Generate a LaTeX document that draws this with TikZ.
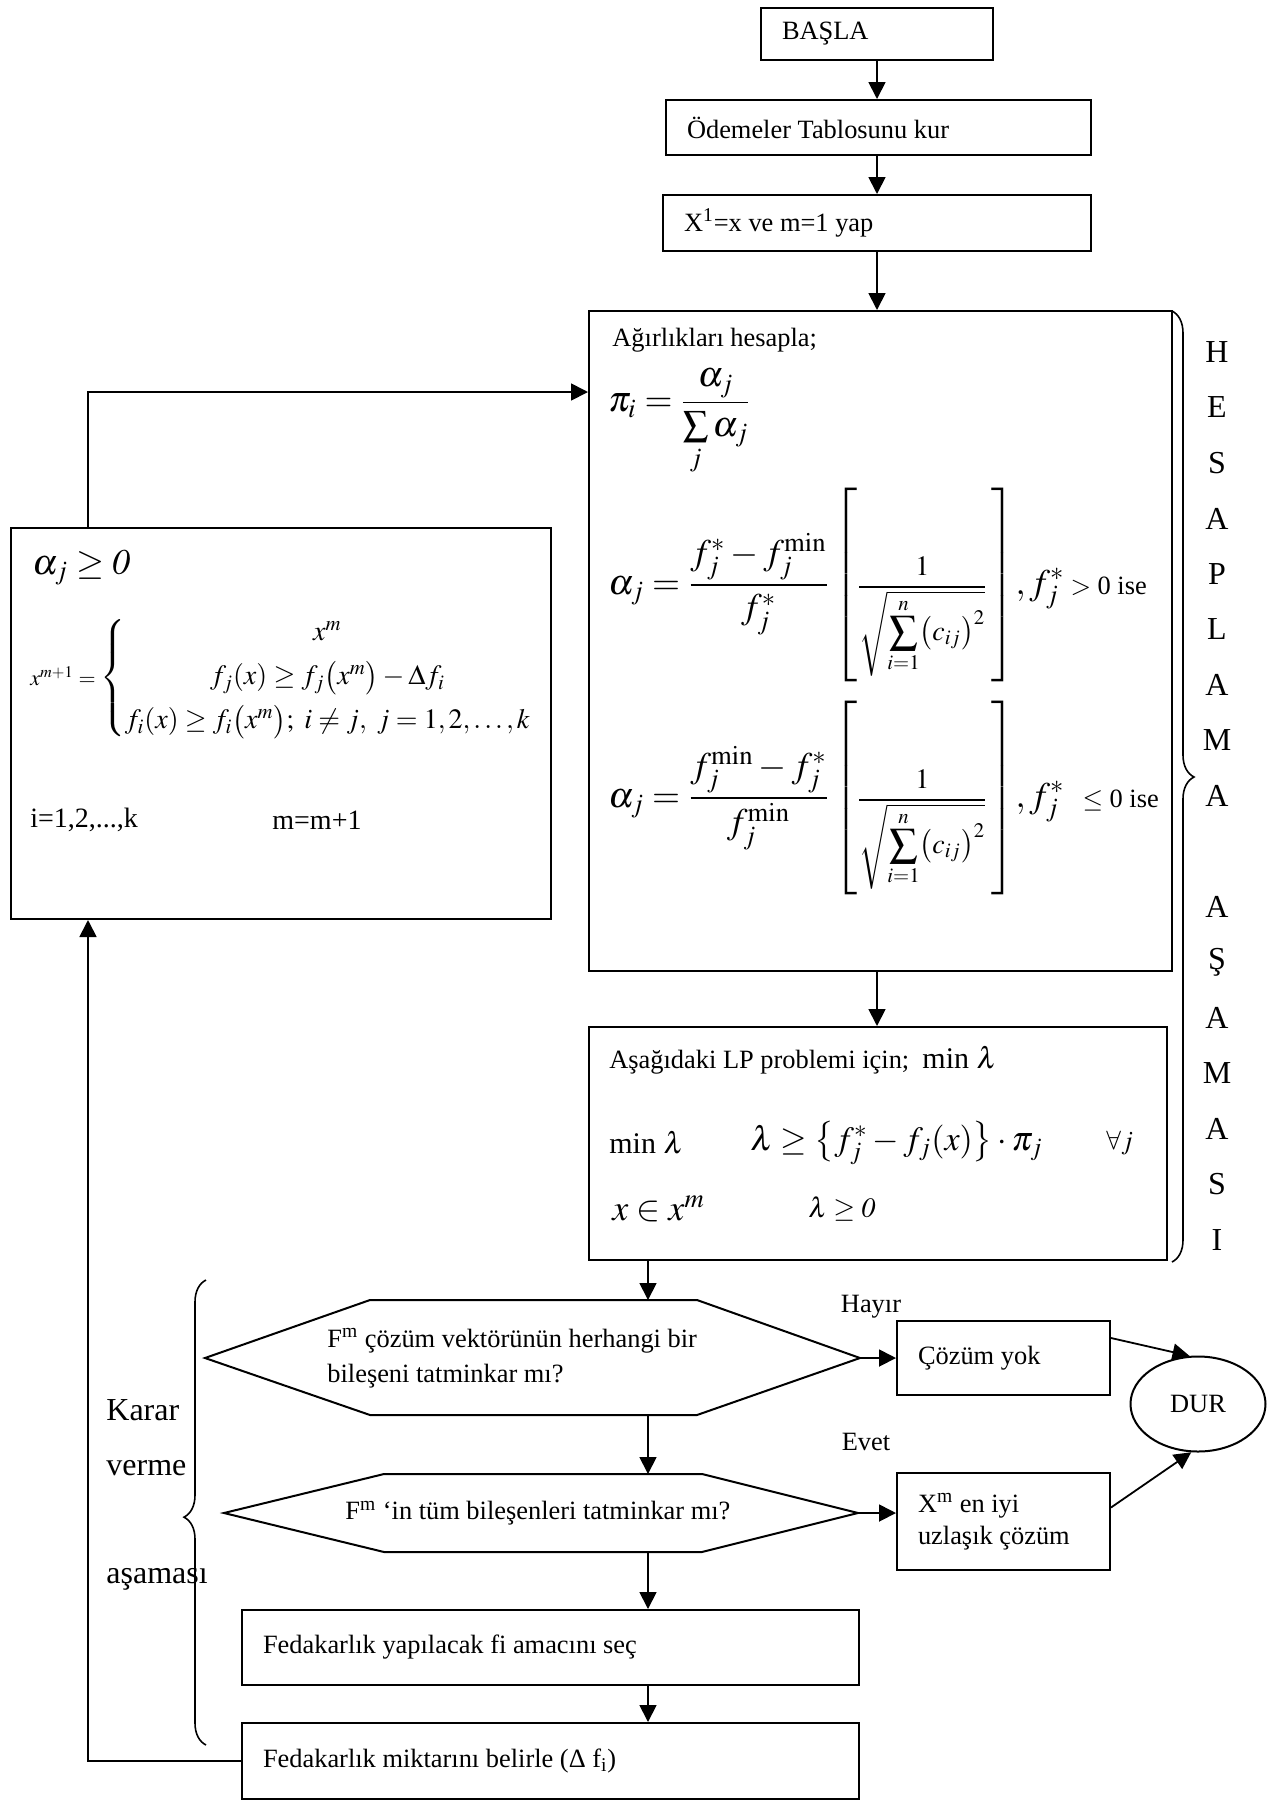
\documentclass[tikz,border=0pt]{standalone}
\usepackage{mathptmx}
\usepackage{amsmath}
\usepackage{fontspec}
\setmainfont{Liberation Serif}
\usetikzlibrary{arrows.meta,calc,shapes.geometric,decorations.pathreplacing}

\tikzset{
  kutu/.style={draw, line width=1pt, rectangle, align=flush left, inner xsep=10.5pt, inner ysep=0pt},
  cerceve/.style={draw, line width=1pt},
  yazi/.style={anchor=west, inner sep=0pt},
  harf/.style={font=\fontsize{16}{19}\selectfont, inner sep=0pt},
  ok/.style={line width=0.9pt, -{Triangle[width=8.5pt,length=8.5pt]}},
  parantez/.style={decorate, decoration={brace, amplitude=11pt, aspect=0.49}, line width=0.8pt}
}
\newcommand{\kokterim}{\mbox{\fontsize{14}{17}\selectfont$\dfrac{1}{\sqrt{\displaystyle\sum_{i=1}^{n}\bigl(c_{ij}\bigr)^{2}}}$}}

\begin{document}
\begin{tikzpicture}[x=0.5pt,y=-0.5pt,font=\fontsize{13.2}{16}\selectfont]
\useasboundingbox (0,0) rectangle (1269,1801);

% baslangic kutulari
\node[kutu, text width=95pt, minimum height=26pt] (basla) at (877,34) {BAŞLA};
\node[kutu, text width=191.5pt, minimum height=27.5pt] (odeme) at (878.5,127.5) {Ödemeler Tablosunu kur};
\node[kutu, text width=193pt, minimum height=28pt] (xbir) at (877,223) {X\textsuperscript{1}=x ve m=1 yap};

% hesaplama asamasi
\node[cerceve, minimum width=291.5pt, minimum height=330pt] (agirlik) at (880.5,641) {};
\node[yazi] (baslik) at (612,340) {Ağırlıkları hesapla;};
\node[yazi, font=\fontsize{18}{22}\selectfont] (pi) at (608,422) {$\pi_i=\dfrac{\alpha_j}{\sum\limits_{j}\alpha_j}$};
\node[yazi, font=\fontsize{18}{22}\selectfont] (alfa1) at (608,585)
  {$\alpha_j=\dfrac{f_j^{*}-f_j^{\min}}{f_j^{*}}\left[\rule[-42pt]{0pt}{93pt}\kokterim\,\right]\!,f_j^{*}$\,{\fontsize{13.2}{16}\selectfont$>$ 0 ise}};
\node[yazi, font=\fontsize{18}{22}\selectfont] (alfa2) at (608,798)
  {$\alpha_j=\dfrac{f_j^{\min}-f_j^{*}}{f_j^{\min}}\left[\rule[-42pt]{0pt}{93pt}\kokterim\,\right]\!,f_j^{*}$\enspace{\fontsize{13.2}{16}\selectfont$\leq$ 0 ise}};

\node[cerceve, minimum width=289pt, minimum height=116.5pt] (lp) at (878,1143.5) {};
\node[yazi] (lpbaslik) at (609,1060) {Aşağıdaki LP problemi için;\enspace{\fontsize{15}{18}\selectfont min $\lambda$}};
\node[yazi, font=\fontsize{15}{18}\selectfont] (minl) at (609,1143) {min $\lambda$};
\node[yazi, font=\fontsize{17}{20}\selectfont] (kisit) at (750,1143) {$\lambda\geq\bigl\{f_j^{*}-f_j(x)\bigr\}\cdot\pi_j$};
\node[yazi] (herj) at (1106,1143) {$\forall j$};
\node[yazi, font=\fontsize{18}{22}\selectfont] (xkume) at (612,1209) {$x\in x^{m}$};
\node[yazi, font=\fontsize{14}{17}\selectfont] (lpoz) at (808,1209) {$\lambda\geq\mathit{0}$};

% sag taraftaki harfler
\foreach \harfi/\n in {H/0,E/1,S/2,A/3,P/4,L/5,A/6,M/7,A/8,A/10,Ş/11,A/12,M/13,A/14,S/15,I/16}
    \node[harf] (h\n) at (1217,{352+55.5*\n}) {\harfi};
\draw[parantez] (1172,311) -- (1172,1262);

% yeni cozum kutusu
\node[cerceve, minimum width=270pt, minimum height=195.5pt] (guncel) at (281,723.5) {};
\node[yazi, font=\fontsize{18}{22}\selectfont] (alfapoz) at (32,568) {$\alpha_j\geq\mathit{0}$};
\node[yazi] (xyeni) at (30,678) {{\fontsize{11}{13}\selectfont$x^{m+1}=$}\,{\fontsize{14}{17}\selectfont$\left\{\begin{array}{@{}c@{}}x^{m}\\[5pt] f_j(x)\geq f_j\bigl(x^{m}\bigr)-\Delta f_i\\[5pt] f_i(x)\geq f_i\bigl(x^{m}\bigr);\ i\neq j,\ j=1,2,\ldots,k\end{array}\right.$}};
\node[yazi, font=\fontsize{14}{17}\selectfont] (iler) at (30,820) {i=1,2,...,k};
\node[yazi, font=\fontsize{14}{17}\selectfont] (martir) at (272,820) {m=m+1};

% karar verme asamasi
\draw[cerceve] (205,1358) coordinate (k1w) -- (370,1300) coordinate (k1nw) -- (697,1300) -- (860,1358) coordinate (k1e)
    -- (697,1415) -- (370,1415) coordinate (k1sw) -- cycle;
\node[yazi, align=flush left] (karar1) at (327,1358) {F\textsuperscript{m} çözüm vektörünün herhangi bir\\[1.5pt]bileşeni tatminkar mı?};
\draw[cerceve] (224,1513) coordinate (k2w) -- (384,1474) coordinate (k2nw) -- (702,1474) -- (858,1513) coordinate (k2e)
    -- (702,1552) -- (384,1552) coordinate (k2sw) -- cycle;
\node[yazi] (karar2) at (345,1513) {F\textsuperscript{m} ‘in tüm bileşenleri tatminkar mı?};
\node[kutu, text width=85.5pt, minimum height=37pt] (cozum) at (1003.5,1358) {Çözüm yok};
\node[kutu, text width=85.5pt, minimum height=48.5pt] (xm) at (1003.5,1521.5) {X\textsuperscript{m} en iyi\\uzlaşık çözüm};
\node[draw, ellipse, line width=1pt, minimum width=67.5pt, minimum height=47.5pt] (dur) at (1198,1404) {DUR};
\node (hayir) at (871,1307) {Hayır};
\node (evet) at (866,1442) {Evet};
\node[kutu, text width=287.5pt, minimum height=37.5pt] (secim) at (550.5,1647.5) {Fedakarlık yapılacak fi amacını seç};
\node[kutu, text width=287.5pt, minimum height=38pt] (miktar) at (550.5,1761) {Fedakarlık miktarını belirle (Δ f\textsubscript{i})};

\node[yazi, font=\fontsize{16}{19}\selectfont] (kararyazi) at (106,1410) {Karar};
\node[yazi, font=\fontsize{16}{19}\selectfont] (vermeyazi) at (106,1468) {verme};
\node[yazi, font=\fontsize{16}{19}\selectfont] (asamayazi) at (106,1579) {aşaması};
\draw[parantez] (206,1745) -- (206,1280);

% baglantilar
\draw[ok] (basla.south) -- (basla.south |- odeme.north);
\draw[ok] (basla.south |- odeme.south) -- (basla.south |- xbir.north);
\draw[ok] (basla.south |- xbir.south) -- (basla.south |- agirlik.north);
\draw[ok] (basla.south |- agirlik.south) -- (basla.south |- lp.north);
\coordinate (omurga) at (648,1260);
\draw[ok] (omurga |- lp.south) -- (omurga |- k1nw);
\draw[ok] (omurga |- k1sw) -- (omurga |- k2nw);
\draw[ok] (omurga |- k2sw) -- (omurga |- secim.north);
\draw[ok] (omurga |- secim.south) -- (omurga |- miktar.north);
\draw[ok] (k1e) -- (k1e -| cozum.west);
\draw[ok] (k2e) -- (k2e -| xm.west);
\draw[ok] ($(cozum.east)+(0,-20)$) -- (dur.100);
\draw[ok] ($(xm.east)+(0,-14)$) -- (dur.262);
\coordinate (donus) at (88,1761);
\draw[ok] (miktar.west) -- (donus |- miktar.west) -- (donus |- guncel.south);
\coordinate (geri) at (88,392);
\draw[ok] (donus |- guncel.north) -- (geri) -- (geri -| agirlik.west);
\end{tikzpicture}
\end{document}
